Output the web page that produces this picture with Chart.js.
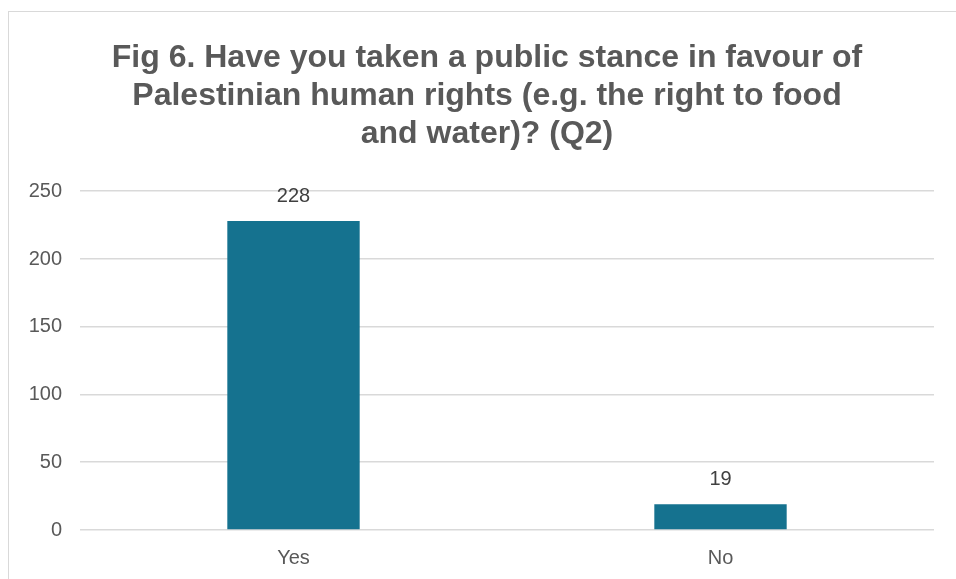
<!DOCTYPE html>
<html>
<head>
<meta charset="utf-8">
<script src="https://cdn.jsdelivr.net/npm/chart.js@4"></script>
<style>
    html, body { margin: 0; padding: 0; background: #fff; overflow: hidden; }
    .frame {
        position: absolute; left: 8px; top: 11px; width: 1000px; height: 620px;
        border: 1.5px solid #d9d9d9; box-sizing: border-box;
    }
    .wrap { position: absolute; left: 0; top: 0; width: 956px; height: 579px; }
</style>
</head>
<body>
<div class="frame"></div>
<div class="wrap"><canvas id="stanceChart"></canvas></div>
<script>
const categories = ['Yes', 'No'];
const responses = [228, 19];
const yTicks = [0, 50, 100, 150, 200, 250];
const titleLines = [
    'Fig 6. Have you taken a public stance in favour of',
    'Palestinian human rights (e.g. the right to food',
    'and water)? (Q2)'
];

// Writes the count above each bar
const barValueLabels = {
    id: 'barValueLabels',
    afterDatasetsDraw(chart) {
        const ctx = chart.ctx;
        const meta = chart.getDatasetMeta(0);
        ctx.save();
        ctx.font = '20px "Liberation Sans", Arial, sans-serif';
        ctx.fillStyle = '#404040';
        ctx.textAlign = 'center';
        ctx.textBaseline = 'bottom';
        meta.data.forEach(function(bar, i) {
            ctx.fillText(String(chart.data.datasets[0].data[i]), bar.x, bar.y - 15);
        });
        ctx.restore();
    }
};

// Nudges the title a little to the right of the padded box
const titleShift = {
    id: 'titleShift',
    afterLayout(chart) {
        if (chart.titleBlock) {
            chart.titleBlock.left += 10;
            chart.titleBlock.right += 10;
        }
    }
};

function initStanceChart() {
    return new Chart(document.getElementById('stanceChart'), {
        type: 'bar',
        data: {
            labels: categories,
            datasets: [{
                data: responses,
                backgroundColor: '#15728f',
                categoryPercentage: 1,
                barPercentage: 0.31
            }]
        },
        options: {
            responsive: true,
            maintainAspectRatio: false,
            animation: false,
            layout: {
                padding: { left: 20, right: 22, top: 0, bottom: 0 }
            },
            scales: {
                y: {
                    min: 0,
                    max: 250,
                    afterBuildTicks: function(axis) {
                        axis.ticks = yTicks.map(function(v) { return { value: v }; });
                    },
                    afterFit: function(axis) {
                        axis.width = 60;
                    },
                    border: { display: false },
                    grid: {
                        color: '#d9d9d9',
                        lineWidth: 1.5,
                        drawTicks: false
                    },
                    ticks: {
                        padding: 18,
                        color: '#595959',
                        font: { family: '"Liberation Sans", Arial, sans-serif', size: 20 }
                    }
                },
                x: {
                    afterFit: function(axis) {
                        axis.height = 49;
                    },
                    border: { display: false },
                    grid: { display: false },
                    ticks: {
                        padding: 8,
                        color: '#595959',
                        font: { family: '"Liberation Sans", Arial, sans-serif', size: 20 }
                    }
                }
            },
            plugins: {
                legend: { display: false },
                tooltip: { enabled: false },
                title: {
                    display: true,
                    text: titleLines,
                    color: '#595959',
                    font: {
                        family: '"Liberation Sans", Arial, sans-serif',
                        size: 32,
                        weight: 'bold',
                        lineHeight: 1.19
                    },
                    padding: { top: 39, bottom: 38 }
                }
            }
        },
        plugins: [barValueLabels, titleShift]
    });
}

document.addEventListener('DOMContentLoaded', function() {
    initStanceChart();
});
</script>
</body>
</html>
